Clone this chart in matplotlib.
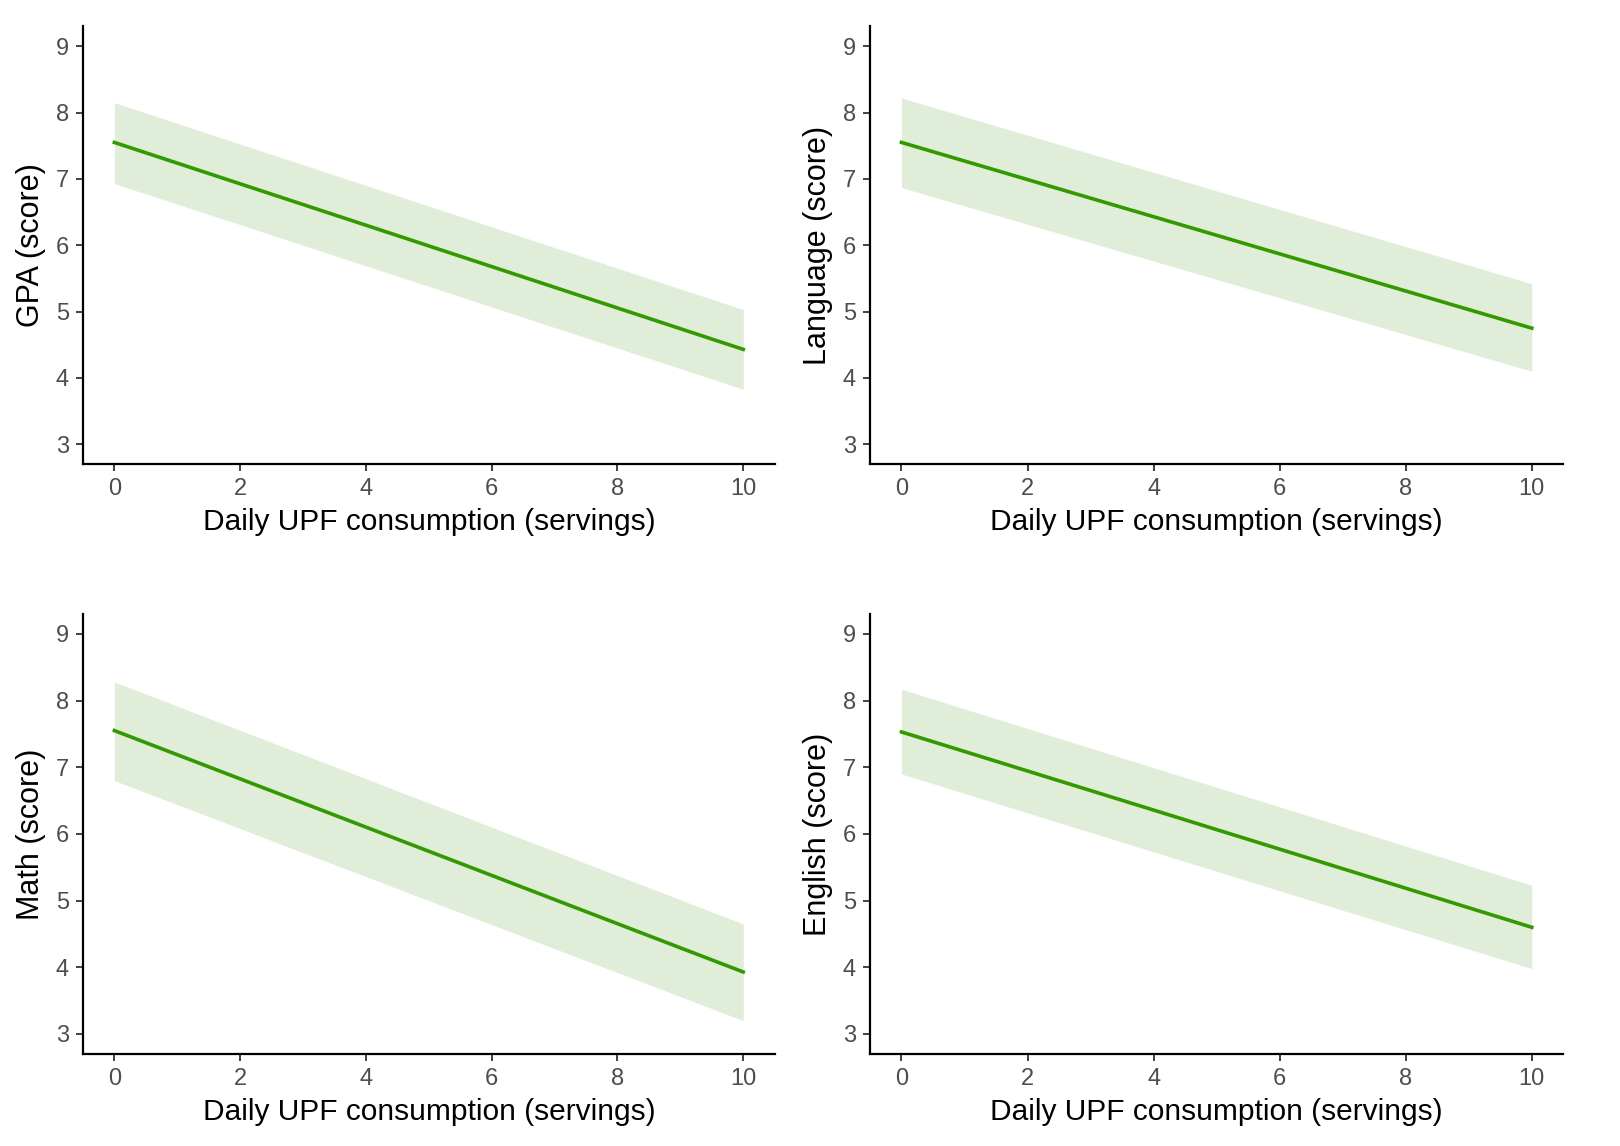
import numpy as np
import matplotlib
matplotlib.use('Agg')
import matplotlib.pyplot as plt

plt.rcParams['font.family'] = ['Liberation Sans', 'DejaVu Sans']

# 每日超加工食品摄入量 (servings)
upf_x = [0, 10]

# 各科目的拟合线与置信区间
outcomes = ['GPA', 'Language', 'Math', 'English']
fit_values = {
    'GPA': [7.55, 4.43],
    'Language': [7.55, 4.75],
    'Math': [7.55, 3.93],
    'English': [7.53, 4.60],
}
ci_lower = {
    'GPA': [6.93, 3.83],
    'Language': [6.87, 4.10],
    'Math': [6.80, 3.20],
    'English': [6.90, 3.98],
}
ci_upper = {
    'GPA': [8.15, 5.03],
    'Language': [8.22, 5.42],
    'Math': [8.28, 4.65],
    'English': [8.17, 5.23],
}

x_ticks = [0, 2, 4, 6, 8, 10]
y_ticks = [3, 4, 5, 6, 7, 8, 9]

line_color = '#339900'
band_color = '#E0EDD8'

fig = plt.figure(figsize=(16.2, 11.46), dpi=100)

# 子图位置 (left, bottom, width, height)
positions = [
    [0.0512, 0.595, 0.427, 0.382],
    [0.537, 0.595, 0.428, 0.382],
    [0.0512, 0.0803, 0.427, 0.384],
    [0.537, 0.0803, 0.428, 0.384],
]

for name, pos in zip(outcomes, positions):
    ax = fig.add_axes(pos)
    ax.fill_between(upf_x, ci_lower[name], ci_upper[name], color=band_color, linewidth=0)
    ax.plot(upf_x, fit_values[name], color=line_color, linewidth=2.6)

    ax.set_xlim(-0.5, 10.5)
    ax.set_ylim(2.7, 9.3)
    ax.set_xticks(x_ticks)
    ax.set_yticks(y_ticks)

    for side in ['top', 'right']:
        ax.spines[side].set_visible(False)
    for side in ['left', 'bottom']:
        ax.spines[side].set_linewidth(1.6)
        ax.spines[side].set_color('black')

    ax.tick_params(axis='both', length=5, width=1.3, color='#333333',
                   labelsize=17, labelcolor='#4D4D4D', pad=5)
    ax.set_xlabel('Daily UPF consumption (servings)', fontsize=21.5, labelpad=6)
    ax.set_ylabel(f'{name} (score)', fontsize=22, labelpad=7)

plt.savefig('out.png', dpi=100)
plt.close(fig)
